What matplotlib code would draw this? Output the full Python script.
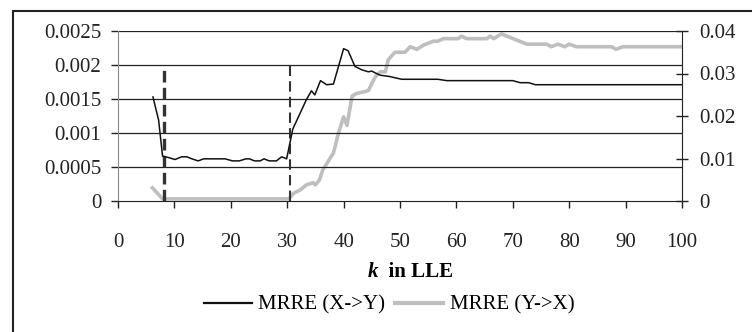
import numpy as np
import matplotlib.pyplot as plt
from matplotlib.patches import Rectangle
from matplotlib.ticker import FixedLocator

plt.rcParams['font.family'] = ['Liberation Serif', 'DejaVu Serif']

# MRRE (X->Y), left axis
k_xy = [6.2, 7.2, 7.9, 8.9, 10.1, 11.3, 12.2, 13.1, 14.2, 15.2, 19.0, 20.3, 21.5,
        22.7, 23.3, 24.2, 25.2, 25.9, 26.8, 28.1, 29.0, 29.9, 31.0, 33.4, 34.3,
        34.9, 35.9, 37.0, 38.2, 39.1, 40.0, 40.8, 42.0, 43.2, 44.4, 45.0, 45.7,
        46.5, 48.2, 50.3, 56.7, 58.3, 70.0, 71.3, 72.8, 74.0, 100.0]
mrre_xy = [0.00153, 0.00119, 0.00066, 0.00064, 0.00061, 0.00065, 0.00065, 0.00062,
           0.00059, 0.00062, 0.00062, 0.00059, 0.00059, 0.00062, 0.00062, 0.00059,
           0.00059, 0.00062, 0.00059, 0.00059, 0.00065, 0.00062, 0.00106, 0.00149,
           0.00162, 0.00156, 0.00177, 0.00171, 0.00172, 0.00198, 0.00224, 0.00221,
           0.00198, 0.00193, 0.00190, 0.00191, 0.00188, 0.00185, 0.00183, 0.00179,
           0.00179, 0.00177, 0.00177, 0.00174, 0.00174, 0.00171, 0.00171]

# MRRE (Y->X), right axis
k_yx = [6.1, 7.9, 30.3, 31.1, 32.3, 33.4, 34.6, 35.0, 35.7, 36.3, 38.2, 39.1,
        40.0, 40.6, 41.5, 42.3, 43.6, 44.4, 45.6, 46.5, 47.4, 47.9, 49.1, 50.9,
        51.8, 53.0, 54.2, 55.9, 56.7, 57.7, 60.3, 60.9, 61.8, 65.4, 66.0, 66.6,
        68.0, 69.5, 72.5, 76.0, 76.8, 78.0, 79.2, 80.0, 81.3, 87.5, 88.3, 89.5,
        100.0]
mrre_yx = [0.0031, 0.0005, 0.0005, 0.0018, 0.0026, 0.0038, 0.0043, 0.0038, 0.0049,
           0.0073, 0.0113, 0.0160, 0.0198, 0.0178, 0.0247, 0.0253, 0.0257, 0.0260,
           0.0292, 0.0304, 0.0304, 0.0332, 0.0350, 0.0350, 0.0363, 0.0357, 0.0367,
           0.0376, 0.0376, 0.0382, 0.0382, 0.0388, 0.0382, 0.0382, 0.0388, 0.0382,
           0.0393, 0.0385, 0.0369, 0.0369, 0.0363, 0.0369, 0.0363, 0.0369, 0.0363,
           0.0363, 0.0357, 0.0363, 0.0363]

# chosen range of k
k_marks = [8.2, 30.5]

left_ticks = [0, 0.0005, 0.001, 0.0015, 0.002, 0.0025]
left_labels = ['0', '0.0005', '0.001', '0.0015', '0.002', '0.0025']
right_ticks = [0, 0.01, 0.02, 0.03, 0.04]
right_labels = ['0', '0.01', '0.02', '0.03', '0.04']
x_ticks = list(range(0, 101, 10))

W, H = 752, 332
fig = plt.figure(figsize=(W / 100, H / 100), dpi=100)
ax = fig.add_axes([118 / W, 1 - 201 / H, (682 - 118) / W, (201 - 31) / H])
ax2 = ax.twinx()

fs = 15
ax.set_xlim(0, 100)
ax.set_ylim(0, 0.0025)
ax2.set_ylim(0, 0.04)

ax.yaxis.set_major_locator(FixedLocator(left_ticks))
ax.set_yticklabels(left_labels)
ax.set_xticks(x_ticks)
ax.set_xticklabels([str(t) for t in x_ticks])
ax2.yaxis.set_major_locator(FixedLocator(right_ticks))
ax2.set_yticklabels(right_labels)

for t in left_ticks[1:]:
    ax.axhline(t, color='#222222', lw=0.9, zorder=1)

ax.vlines(k_marks[0], 0, 0.002, colors='#333333', lw=2.4, linestyles=(0, (3.5, 1.6)), zorder=3)
ax.vlines(k_marks[1], 0, 0.002, colors='#333333', lw=1.5, linestyles=(0, (5, 2.5)), zorder=3)

ax2.plot(k_yx, mrre_yx, color='#bfbfbf', lw=2.6, solid_joinstyle='round', zorder=2)
ax.plot(k_xy, mrre_xy, color='#111111', lw=1.1, zorder=4)
ax.set_zorder(ax2.get_zorder() + 1)
ax.patch.set_visible(False)

ax.tick_params(axis='y', direction='out', length=5, width=1, pad=7, labelsize=fs, colors='#222222')
ax.tick_params(axis='x', direction='out', length=5, width=1, pad=18, labelsize=fs, colors='#222222')
ax2.tick_params(axis='y', direction='inout', length=9, width=1, pad=8, labelsize=fs, colors='#222222')
for a in (ax, ax2):
    for s in a.spines.values():
        s.set_visible(False)
ax.spines['left'].set_visible(True)
ax.spines['left'].set_color('#888888')
ax.spines['bottom'].set_visible(True)
ax.spines['bottom'].set_color('#222222')
ax2.spines['right'].set_visible(True)
ax2.spines['right'].set_color('#222222')

# axis title: italic k followed by upright text
fig.text(378 / W, 1 - 272 / H, 'k', fontsize=fs, fontweight='bold', style='italic',
         ha='right', va='center')
fig.text(378 / W, 1 - 272 / H, '  in LLE', fontsize=fs, fontweight='bold',
         ha='left', va='center')

lx = ax.plot([], [], color='#111111', lw=1.6, label='MRRE (X->Y)')[0]
rx = ax.plot([], [], color='#bfbfbf', lw=3, label='MRRE (Y->X)')[0]
fig.legend(handles=[lx, rx], loc='center', bbox_to_anchor=(389 / W, 1 - 305 / H),
           ncol=2, frameon=False, fontsize=fs, handlelength=2.3, handletextpad=0.3,
           columnspacing=0.5)

fig.patches.append(Rectangle((13 / W, -0.1), 1.2, 1 - 11 / H + 0.1, transform=fig.transFigure,
                             fill=False, edgecolor='#222222', lw=1.5))

fig.savefig('out.png', dpi=100)
